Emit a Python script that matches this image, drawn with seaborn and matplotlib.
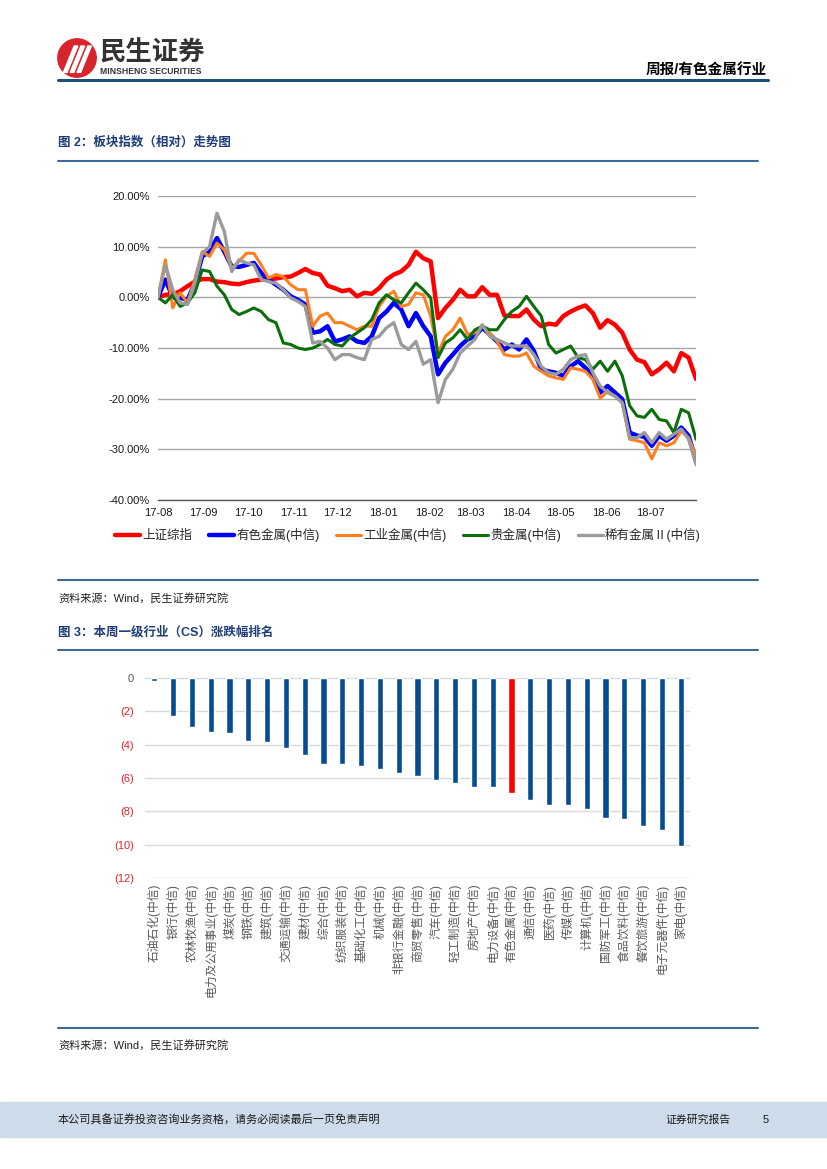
import pandas as pd
import seaborn as sns
import matplotlib.pyplot as plt
from matplotlib.patches import Circle, Polygon, Rectangle
from matplotlib.lines import Line2D

# ---- data: chart 1, relative index trend (%), one value every 5 days ----
dates = pd.date_range('2017-08-01', periods=74, freq='5D')

sh_index = [0.0, 0.5, 0.6, 1.2, 2.2, 3.1, 3.6, 3.6, 3.1, 3.0,
            2.7, 2.6, 3.0, 3.3, 3.5, 3.7, 3.7, 4.0, 4.1, 4.8,
            5.6, 4.8, 4.5, 2.3, 1.8, 1.2, 1.5, 0.2, 0.9, 0.7,
            1.8, 3.5, 4.5, 5.1, 6.4, 9.0, 7.7, 7.1, -4.1, -2.1,
            -0.5, 1.5, 0.2, 0.2, 2.0, 0.5, 0.5, -3.6, -3.7, -3.7,
            -2.4, -4.4, -5.7, -5.2, -5.4, -3.7, -2.8, -2.1, -1.6, -3.1,
            -6.0, -4.5, -5.4, -7.0, -10.3, -12.3, -12.8, -15.2, -14.2, -12.9,
            -14.6, -11.0, -11.9, -16.1]
nonferrous = [0.0, 3.5, 0.0, -0.1, -0.5, 2.8, 8.1, 9.0, 11.7, 9.0,
              6.1, 6.0, 6.4, 6.8, 4.8, 3.5, 2.5, 1.5, 0.2, -0.5,
              -1.4, -7.0, -6.7, -5.7, -8.7, -8.3, -7.7, -8.7, -9.0, -7.7,
              -4.1, -2.8, -1.1, -2.4, -5.7, -3.1, -5.7, -7.7, -15.2, -12.9,
              -11.3, -9.6, -8.3, -7.7, -6.0, -7.3, -8.7, -10.3, -9.3, -10.3,
              -8.3, -10.6, -14.2, -14.6, -14.9, -15.5, -13.6, -12.6, -13.9, -15.5,
              -18.8, -17.5, -18.8, -20.1, -26.7, -27.3, -27.5, -29.3, -27.3, -28.3,
              -27.3, -25.7, -27.3, -32.3]
industrial = [0.0, 7.4, -2.1, 0.9, -1.1, 3.5, 9.0, 8.1, 10.7, 9.4,
              5.8, 7.1, 8.7, 8.7, 6.4, 3.8, 4.5, 4.1, 2.5, 1.5,
              1.5, -5.7, -3.7, -3.1, -5.0, -5.0, -5.7, -6.4, -5.7, -5.7,
              -1.8, 0.2, 1.2, -1.8, -1.4, 0.9, 0.5, -3.7, -11.0, -7.7,
              -6.4, -4.1, -7.3, -7.0, -5.7, -7.0, -8.7, -11.3, -11.6, -11.6,
              -11.0, -13.6, -14.6, -15.5, -15.9, -16.2, -13.9, -14.2, -14.6, -16.2,
              -19.9, -18.6, -19.5, -20.8, -28.0, -28.3, -28.7, -31.9, -28.7, -29.3,
              -28.7, -26.4, -27.7, -31.3]
precious = [0.0, -1.1, 0.5, -1.8, -1.1, 0.9, 5.4, 5.1, 2.2, 0.5,
            -2.4, -3.4, -2.8, -2.1, -2.8, -4.4, -5.0, -9.0, -9.3, -10.0,
            -10.3, -10.0, -9.3, -8.3, -9.3, -9.6, -8.0, -7.0, -6.0, -4.4,
            -1.1, 0.5, -0.5, -1.1, 0.9, 2.8, 1.5, -0.1, -11.9, -9.0,
            -8.0, -6.4, -8.3, -6.4, -5.7, -6.4, -6.4, -4.4, -2.8, -1.8,
            0.2, -1.8, -3.7, -9.3, -11.0, -10.3, -9.6, -11.9, -12.3, -14.2,
            -12.6, -14.6, -12.6, -15.5, -21.4, -23.4, -23.7, -22.1, -24.1, -24.4,
            -26.7, -22.1, -22.8, -28.0]
rare = [0.0, 6.4, 1.5, -1.1, -1.4, 2.8, 8.7, 10.0, 16.6, 13.0,
        5.1, 7.4, 6.8, 6.4, 3.5, 3.1, 2.8, 1.5, -0.1, -0.8,
        -1.8, -9.0, -8.7, -10.0, -12.3, -11.3, -11.3, -11.9, -12.3, -8.3,
        -7.7, -6.0, -5.0, -9.3, -10.3, -8.7, -13.2, -12.3, -20.8, -16.2,
        -14.2, -11.0, -9.6, -8.3, -5.4, -7.7, -8.3, -9.0, -9.6, -9.6,
        -9.6, -11.3, -13.6, -14.9, -15.2, -14.2, -12.3, -11.6, -11.3, -14.9,
        -17.5, -18.8, -19.5, -20.8, -27.7, -27.7, -26.7, -28.7, -26.7, -28.0,
        -27.0, -26.0, -28.0, -33.0]

series_names = ['上证综指', '有色金属(中信)', '工业金属(中信)', '贵金属(中信)', '稀有金属Ⅱ(中信)']
month_ticks = pd.date_range('2017-08-01', '2018-08-01', freq='MS')
month_labels = ['17-08', '17-09', '17-10', '17-11', '17-12', '18-01', '18-02',
                '18-03', '18-04', '18-05', '18-06', '18-07', '']

# ---- data: chart 2, weekly change by CS level-1 industry (%) ----
industries = ['石油石化(中信)', '银行(中信)', '农林牧渔(中信)', '电力及公用事业(中信)', '煤炭(中信)',
              '钢铁(中信)', '建筑(中信)', '交通运输(中信)', '建材(中信)', '综合(中信)',
              '纺织服装(中信)', '基础化工(中信)', '机械(中信)', '非银行金融(中信)', '商贸零售(中信)',
              '汽车(中信)', '轻工制造(中信)', '房地产(中信)', '电力设备(中信)', '有色金属(中信)',
              '通信(中信)', '医药(中信)', '传媒(中信)', '计算机(中信)', '国防军工(中信)',
              '食品饮料(中信)', '餐饮旅游(中信)', '电子元器件(中信)', '家电(中信)']
weekly_change = [-0.15, -2.30, -2.92, -3.26, -3.32, -3.80, -3.84, -4.20, -4.64, -5.16,
                 -5.16, -5.26, -5.48, -5.70, -5.86, -6.14, -6.30, -6.54, -6.54, -6.92,
                 -7.32, -7.60, -7.60, -7.88, -8.40, -8.46, -8.88, -9.12, -10.08]
bar_ticks = [0, -2, -4, -6, -8, -10, -12]
bar_tick_labels = ['0', '(2)', '(4)', '(6)', '(8)', '(10)', '(12)']

# ---- page setup ----
sns.set_style('white')
plt.rcParams['font.family'] = ['Liberation Sans', 'Noto Sans CJK SC', 'DejaVu Sans']

W, H = 827, 1169
fig = plt.figure(figsize=(W / 100, H / 100), dpi=100)


def fy(y):
    return 1 - y / H


def page_text(x, y, s, **kw):
    fig.text(x / W, fy(y), s, va='center', **kw)


def page_line(x0, x1, y, color, lw):
    fig.add_artist(Line2D([x0 / W, x1 / W], [fy(y), fy(y)], transform=fig.transFigure,
                          color=color, lw=lw))


# header logo
logo = fig.add_axes([57 / W, fy(78), 40 / W, 40 / H])
logo.set_xlim(0, 1)
logo.set_ylim(0, 1)
logo.axis('off')
logo.add_patch(Circle((0.5, 0.5), 0.48, color='#d8242c'))
for dx in [0.0, 0.17, 0.34]:
    logo.add_patch(Polygon([(0.16 + dx, 0.14), (0.25 + dx, 0.14), (0.52 + dx, 0.80), (0.43 + dx, 0.80)],
                           closed=True, color='white'))
page_text(100, 53, '民生证券', fontsize=19, fontweight='bold', color='#333333', family='Noto Sans CJK SC')
page_text(100, 71, 'MINSHENG SECURITIES', fontsize=6.2, fontweight='bold', color='#333333')
page_text(767, 70, '周报/有色金属行业', fontsize=10.5, fontweight='bold', color='black', ha='right')
page_line(58, 768, 80, '#1f4e79', 2.2)

blue_rule = '#3b6a96'
title_blue = '#1f3d7a'
page_text(58, 143, '图 2：板块指数（相对）走势图', fontsize=9, fontweight='bold', color=title_blue)
page_line(58, 758, 161, blue_rule, 1.5)
page_line(58, 758, 580, blue_rule, 1.5)
page_text(58, 598, '资料来源：Wind，民生证券研究院', fontsize=8, color='#222222')
page_text(58, 632, '图 3：本周一级行业（CS）涨跌幅排名', fontsize=9, fontweight='bold', color=title_blue)
page_line(58, 758, 650, blue_rule, 1.5)
page_line(58, 758, 1028, blue_rule, 1.5)
page_text(58, 1045, '资料来源：Wind，民生证券研究院', fontsize=8, color='#222222')

# footer band
fig.add_artist(Rectangle((0, fy(1137)), 1, 35 / H, transform=fig.transFigure,
                         color='#cddbea', zorder=0))
page_text(58, 1120, '本公司具备证券投资咨询业务资格，请务必阅读最后一页免责声明', fontsize=8, color='#1a1a1a')
page_text(665, 1120, '证券研究报告', fontsize=7.8, color='#1a1a1a')
page_text(763, 1120, '5', fontsize=8, color='#1a1a1a')

# ---- chart 1: line chart ----
ax1 = fig.add_axes([158 / W, fy(500), (696 - 158) / W, (500 - 196) / H])
line_styles = [(sh_index, '#ff0000', 3.2), (nonferrous, '#0000ff', 3.2),
               (industrial, '#ff7f1e', 2.2), (precious, '#0b6e0b', 2.2), (rare, '#9b9b9b', 2.4)]
for (vals, col, lw), name in zip(line_styles, series_names):
    sns.lineplot(x=dates, y=vals, ax=ax1, color=col, lw=lw, label=name)

ax1.set_xlim(pd.Timestamp('2017-08-01'), pd.Timestamp('2018-08-01'))
ax1.set_ylim(-40, 20)
ax1.set_yticks(range(-40, 21, 10), [f'{v:.2f}%' for v in range(-40, 21, 10)])
ax1.set_xticks(month_ticks, month_labels)
ax1.set_xlabel('')
ax1.set_ylabel('')
ax1.yaxis.grid(True, color='#a6a6a6', lw=1)
ax1.xaxis.grid(False)
for side in ['left', 'top', 'right']:
    ax1.spines[side].set_visible(False)
ax1.spines['bottom'].set_color('#595959')
ax1.spines['bottom'].set_linewidth(1)
ax1.tick_params(axis='x', direction='out', length=4, width=1, color='#595959',
                labelsize=8, pad=2, labelcolor='#1a1a1a')
ax1.tick_params(axis='y', length=0, labelsize=8, pad=6, labelcolor='#1a1a1a')
ax1.legend(loc='center', bbox_to_anchor=(408 / W, fy(535)), bbox_transform=fig.transFigure,
           ncol=5, frameon=False, fontsize=9, handlelength=2.0, handletextpad=0.2,
           columnspacing=1.3)

# ---- chart 2: bar chart ----
unit = 200 / 12
ax2 = fig.add_axes([145 / W, fy(878), (690 - 145) / W, (200 + 0.3 * unit) / H])
bar_colors = ['#ff0000' if n.startswith('有色金属') else '#074c92' for n in industries]
sns.barplot(x=industries, y=weekly_change, hue=industries, palette=bar_colors, legend=False,
            width=0.33, saturation=1, ax=ax2)
ax2.set_xlim(-0.5, len(industries) - 0.5)
ax2.set_ylim(-12, 0.3)
ax2.set_yticks(bar_ticks, bar_tick_labels)
ax2.yaxis.grid(True, color='#d9d9d9', lw=1)
ax2.xaxis.grid(False)
ax2.set_axisbelow(True)
for side in ax2.spines:
    ax2.spines[side].set_visible(False)
ax2.tick_params(axis='y', length=0, labelsize=8, pad=8)
ax2.tick_params(axis='x', length=0, labelsize=8.5, pad=4, rotation=90, labelcolor='#595959')
for lbl in ax2.get_yticklabels():
    lbl.set_color('#595959' if lbl.get_text() == '0' else '#e0252b')
ax2.set_xlabel('')
ax2.set_ylabel('')

fig.savefig('out.png', dpi=100)
